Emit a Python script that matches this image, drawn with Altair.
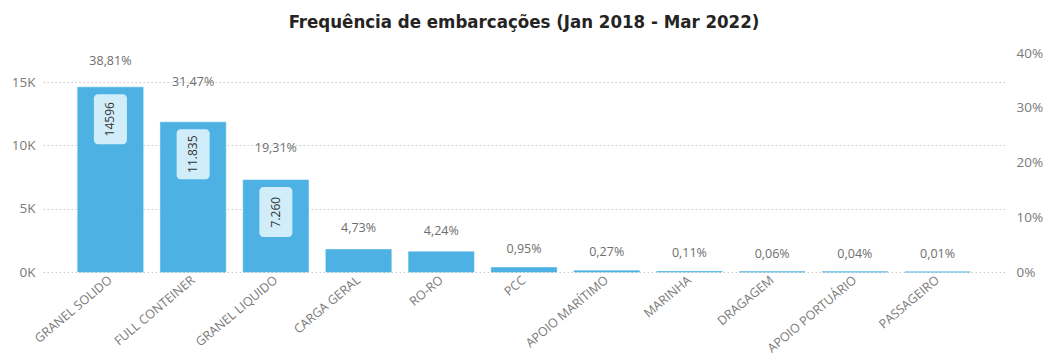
import altair as alt
import pandas as pd

categories = ["GRANEL SOLIDO", "FULL CONTEINER", "GRANEL LIQUIDO", "CARGA GERAL", "RO-RO", "PCC",
              "APOIO MARÍTIMO", "MARINHA", "DRAGAGEM", "APOIO PORTUÁRIO", "PASSAGEIRO"]
counts = [14596, 11835, 7260, 1779, 1595, 357, 102, 41, 23, 15, 4]
pct = [0.3881, 0.3147, 0.1931, 0.0473, 0.0424, 0.0095, 0.0027, 0.0011, 0.0006, 0.0004, 0.0001]
pct_labels = ["38,81%", "31,47%", "19,31%", "4,73%", "4,24%", "0,95%", "0,27%", "0,11%", "0,06%", "0,04%", "0,01%"]
count_labels = ["14596", "11.835", "7.260", "", "", "", "", "", "", "", ""]

df = pd.DataFrame({"cat": categories, "count": counts, "pct": pct,
                   "pct_label": pct_labels, "count_label": count_labels})

BLUE = "#4DB2E3"
FONT = "Open Sans"
AX = "#7a7a7a"

x = alt.X("cat:N", sort=categories, title=None,
          scale=alt.Scale(paddingInner=0.21, paddingOuter=0.42),
          axis=alt.Axis(labelAngle=-40, labelAlign="right", labelBaseline="middle",
                        labelFontSize=12.5, labelColor=AX, labelFont=FONT,
                        labelPadding=6, ticks=False, domain=False, grid=False))

yleft = alt.Y("count:Q", title=None,
              scale=alt.Scale(domain=[0, 17300], nice=False),
              axis=alt.Axis(values=[0, 5000, 10000, 15000], labelExpr="datum.value/1000 + 'K'",
                            labelFontSize=13.5, labelColor=AX, labelFont=FONT,
                            labelPadding=8, ticks=False, domain=False,
                            grid=True, gridColor="#c8c8c8", gridDash=[1.5, 2.5], gridWidth=1))

bars = alt.Chart(df).mark_bar(color=BLUE, stroke=BLUE, strokeWidth=1, strokeOpacity=0.6).encode(x=x, y=yleft)

base_box = alt.Chart(df).transform_filter("datum.count_label != ''")
boxes = base_box.mark_bar(color="#D2EDFA", size=33, cornerRadius=4, yOffset=7, y2Offset=57).encode(
    x=x, y=yleft, y2="count:Q")
ctext = base_box.mark_text(angle=270, fontSize=12, color="#333333", font=FONT,
                           align="center", baseline="middle", yOffset=32).encode(
    x=x, y=yleft, text="count_label:N")

left = alt.layer(bars, boxes, ctext)

ptext = alt.Chart(df).transform_calculate(lab="min(datum.pct + 0.033, 0.386)").mark_text(
    fontSize=12.5, color="#6e6e6e", font=FONT, align="center", baseline="middle").encode(
    x=x,
    y=alt.Y("lab:Q", title=None, scale=alt.Scale(domain=[0, 0.4], nice=False),
            axis=alt.Axis(orient="right", values=[0, 0.1, 0.2, 0.3, 0.4], format=".0%",
                          labelFontSize=13.5, labelColor=AX, labelFont=FONT,
                          labelPadding=11, ticks=False, domain=False, grid=False)),
    text="pct_label:N")

chart = alt.layer(left, ptext).resolve_scale(y="independent").properties(
    width=962, height=219,
    padding={"left": 43, "top": 53, "right": 45, "bottom": 88},
    autosize=alt.AutoSizeParams(type="none"),
    background="white",
    title=alt.TitleParams("Frequência de embarcações (Jan 2018 - Mar 2022)",
                          font="DejaVu Sans Condensed", fontSize=18.5, fontWeight="bold",
                          color="#252423", anchor="middle", offset=15)
).configure_view(stroke=None)

chart.save("out.html", embed_options={"renderer": "svg", "actions": False})
